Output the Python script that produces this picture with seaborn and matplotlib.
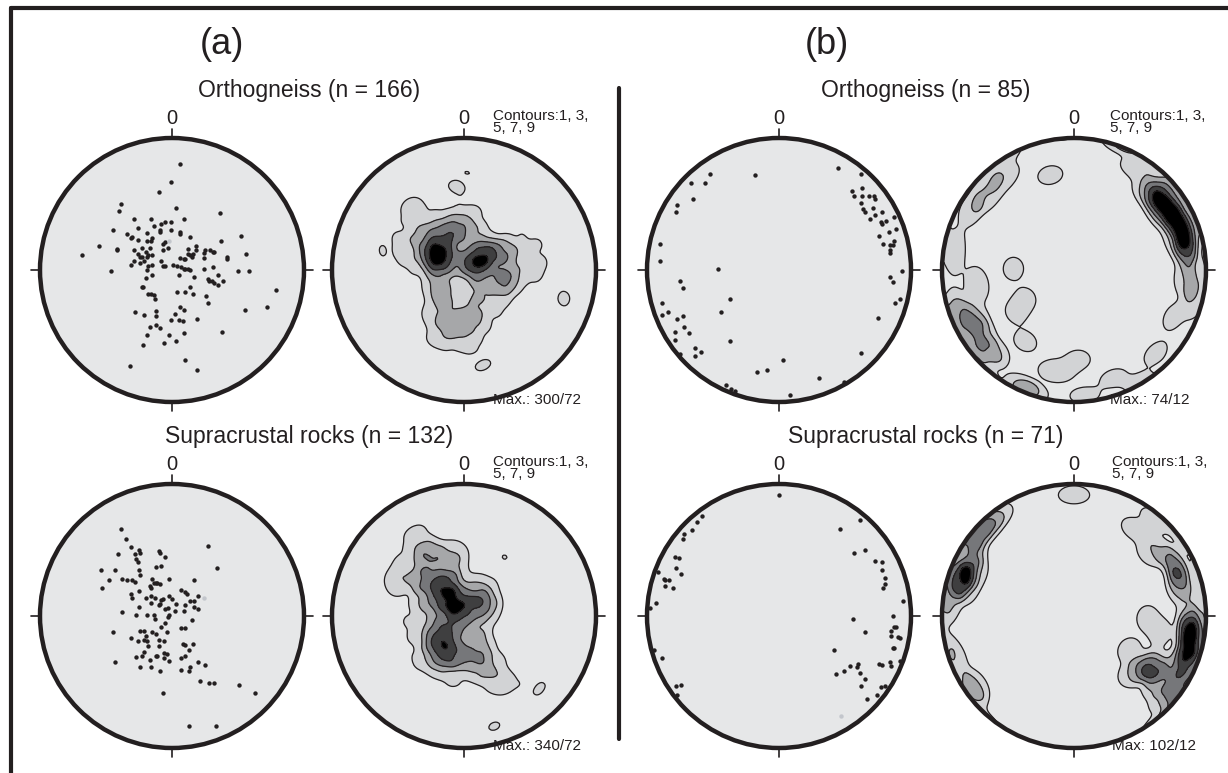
import numpy as np
import matplotlib
matplotlib.use("Agg")
import matplotlib.pyplot as plt
import seaborn as sns
from matplotlib.patches import Circle
from matplotlib.lines import Line2D

# poles in the equal-area net, x = east, y = north, unit circle = primitive
ortho_a_x = [0.06, -0.01, -0.10, -0.39, -0.40, 0.03, 0.36, -0.29, -0.16, 0.09,
             -0.08, -0.05, -0.01, -0.26, -0.14, -0.09, -0.09, -0.01, 0.06, 0.06,
             -0.45, -0.34, -0.30, -0.31, -0.26, -0.19, -0.15, -0.16, -0.19, 0.14,
             0.52, 0.37, -0.55, -0.42, -0.42, -0.23, -0.17, -0.20, -0.29, -0.07,
             -0.05, -0.03, -0.07, 0.12, 0.18, 0.18, 0.12, 0.14, 0.15, 0.16,
             0.24, 0.25, 0.29, 0.31, 0.32, 0.42, 0.42, 0.56, -0.68, -0.26,
             -0.24, -0.23, -0.19, -0.18, -0.15, -0.21, -0.29, -0.31, -0.24, -0.18,
             -0.15, -0.08, -0.07, -0.05, 0.01, 0.04, 0.06, 0.09, 0.10, 0.07,
             0.10, 0.14, 0.12, 0.05, 0.09, 0.17, 0.24, 0.24, 0.31, 0.27,
             0.28, 0.30, 0.32, 0.35, 0.35, 0.39, -0.46, -0.19, -0.20, -0.15,
             -0.22, -0.23, -0.18, -0.16, -0.14, -0.13, 0.50, 0.58, 0.79, 0.04,
             0.10, 0.14, 0.16, 0.26, 0.27, 0.55, 0.72, 0.06, 0.09, -0.28,
             -0.21, -0.12, -0.12, 0.02, 0.19, -0.01, 0.05, 0.08, -0.17, -0.12,
             -0.09, -0.19, -0.02, 0.09, 0.38, -0.22, -0.06, 0.03, 0.10, -0.32, 0.19]
ortho_a_y = [0.80, 0.67, 0.59, 0.50, 0.45, 0.47, 0.43, 0.39, 0.39, 0.39,
             0.35, 0.36, 0.36, 0.32, 0.33, 0.30, 0.29, 0.30, 0.29, 0.27,
             0.30, 0.27, 0.25, 0.24, 0.23, 0.28, 0.24, 0.22, 0.22, 0.25,
             0.26, 0.22, 0.18, 0.16, 0.15, 0.17, 0.17, 0.14, 0.15, 0.20,
             0.21, 0.17, 0.15, 0.16, 0.18, 0.15, 0.12, 0.11, 0.10, 0.12,
             0.13, 0.15, 0.15, 0.14, 0.14, 0.10, 0.08, 0.12, 0.11, 0.12,
             0.10, 0.10, 0.10, 0.11, 0.11, 0.07, 0.07, 0.04, 0.05, 0.03,
             0.04, 0.07, 0.03, 0.03, 0.04, 0.03, 0.09, 0.08, 0.08, 0.02,
             0.01, 0.00, 0.01, -0.04, 0.01, -0.05, 0.09, 0.01, 0.02, -0.07,
             -0.08, -0.08, -0.10, -0.04, -0.11, -0.08, -0.01, 0.00, -0.06, -0.04,
             -0.13, -0.13, -0.18, -0.18, -0.19, -0.22, -0.01, -0.01, -0.15, -0.17,
             -0.17, -0.13, -0.18, -0.20, -0.25, -0.30, -0.28, -0.28, -0.30, -0.32,
             -0.34, -0.31, -0.35, -0.33, -0.37, -0.38, -0.38, -0.39, -0.43, -0.42,
             -0.44, -0.49, -0.49, -0.48, -0.47, -0.57, -0.55, -0.54, -0.68, -0.73, -0.76]
ortho_a_mean = (-0.02, 0.22)

supra_a_x = [-0.39, -0.35, -0.31, -0.41, -0.28, -0.25, -0.24, -0.10, -0.09, -0.05,
             0.27, -0.27, -0.26, -0.12, -0.08, -0.25, -0.24, -0.54, -0.43, 0.34,
             -0.48, -0.38, -0.34, -0.30, -0.28, -0.15, -0.14, -0.12, -0.11, -0.09,
             -0.17, -0.16, -0.02, 0.17, -0.53, -0.25, 0.07, 0.10, 0.11, -0.31,
             -0.30, -0.20, -0.16, -0.13, -0.16, -0.07, -0.08, -0.02, 0.00, 0.03,
             0.14, 0.17, 0.20, 0.17, 0.20, -0.10, -0.09, -0.05, -0.03, -0.25,
             -0.38, -0.27, -0.19, -0.14, -0.13, -0.02, -0.03, -0.05, -0.08, 0.02,
             0.10, 0.09, 0.15, 0.07, 0.10, -0.45, -0.24, -0.21, -0.15, -0.12,
             -0.20, -0.04, -0.31, -0.26, -0.21, -0.19, -0.10, -0.06, 0.08, 0.10,
             0.16, 0.13, -0.18, -0.10, -0.21, -0.12, -0.06, -0.04, -0.11, -0.27,
             -0.23, -0.17, -0.06, -0.02, 0.07, 0.10, 0.20, 0.25, -0.43, -0.24,
             -0.16, -0.09, 0.07, 0.14, 0.13, 0.21, 0.28, 0.32, 0.51, 0.63,
             -0.07, 0.13, 0.33]
supra_a_y = [0.66, 0.58, 0.52, 0.47, 0.47, 0.50, 0.48, 0.49, 0.48, 0.45,
             0.53, 0.43, 0.41, 0.37, 0.38, 0.35, 0.31, 0.35, 0.35, 0.36,
             0.27, 0.28, 0.27, 0.27, 0.26, 0.28, 0.25, 0.25, 0.25, 0.24,
             0.23, 0.21, 0.28, 0.27, 0.21, 0.19, 0.20, 0.18, 0.17, 0.17,
             0.14, 0.14, 0.15, 0.14, 0.10, 0.13, 0.12, 0.15, 0.13, 0.09,
             0.11, 0.11, 0.15, 0.07, 0.05, 0.08, 0.09, 0.05, 0.06, 0.07,
             0.03, 0.01, 0.01, 0.01, -0.02, 0.01, -0.01, -0.05, -0.08, 0.04,
             0.08, 0.04, -0.03, -0.09, -0.09, -0.12, -0.11, -0.11, -0.12, -0.14,
             -0.15, -0.12, -0.17, -0.19, -0.18, -0.19, -0.18, -0.19, -0.21, -0.22,
             -0.21, -0.26, -0.23, -0.23, -0.27, -0.30, -0.28, -0.29, -0.30, -0.31,
             -0.30, -0.33, -0.32, -0.34, -0.32, -0.30, -0.35, -0.37, -0.35, -0.39,
             -0.39, -0.42, -0.41, -0.39, -0.42, -0.49, -0.51, -0.51, -0.52, -0.58,
             -0.58, -0.83, -0.83]
supra_a_mean = (0.24, 0.14)

ortho_b_x = [0.45, 0.62, -0.18, -0.52, -0.67, -0.56, -0.65, -0.77, -0.78, 0.55,
             0.57, 0.63, 0.63, 0.68, 0.72, 0.73, 0.62, 0.64, 0.65, 0.71,
             0.73, 0.78, 0.69, 0.77, 0.78, 0.81, 0.87, 0.83, 0.89, 0.76,
             0.79, 0.84, 0.86, 0.87, 0.84, 0.84, -0.90, -0.90, -0.46, 0.93,
             0.84, 0.86, -0.75, -0.73, -0.37, 0.92, 0.88, -0.89, -0.89, -0.84,
             -0.77, -0.73, -0.44, -0.72, -0.79, -0.79, -0.68, 0.75, -0.64, -0.59,
             -0.64, -0.75, -0.37, 0.62, 0.03, -0.17, -0.09, 0.30, 0.49, -0.40,
             -0.36, -0.33, 0.08]
ortho_b_y = [0.77, 0.73, 0.72, 0.73, 0.66, 0.66, 0.54, 0.49, 0.44, 0.60,
             0.56, 0.62, 0.56, 0.56, 0.56, 0.54, 0.51, 0.46, 0.44, 0.47,
             0.42, 0.44, 0.39, 0.36, 0.35, 0.37, 0.40, 0.29, 0.31, 0.26,
             0.20, 0.19, 0.19, 0.22, 0.13, 0.15, 0.20, 0.07, 0.01, -0.01,
             -0.05, -0.09, -0.08, -0.14, -0.22, -0.22, -0.25, -0.25, -0.34, -0.32,
             -0.37, -0.35, -0.32, -0.43, -0.47, -0.53, -0.48, -0.36, -0.59, -0.62,
             -0.65, -0.64, -0.54, -0.63, -0.68, -0.77, -0.76, -0.82, -0.85, -0.87,
             -0.90, -0.92, -0.95]
ortho_b_mean = (-0.90, -0.43)

supra_b_x = [0.00, -0.58, -0.62, -0.66, -0.72, -0.73, -0.79, -0.76, -0.78, -0.74,
             -0.92, -0.87, -0.86, -0.83, -0.86, -0.80, -0.93, -0.98, 0.61, 0.46,
             0.57, 0.65, 0.73, 0.78, 0.78, 0.80, 0.80, 0.79, 0.94, 0.86,
             0.56, 0.65, 0.87, 0.89, 0.85, 0.85, 0.90, 0.92, 0.86, 0.87,
             -0.95, -0.89, 0.42, 0.43, 0.49, 0.54, 0.59, 0.60, 0.61, 0.65,
             0.62, 0.67, 0.74, 0.77, 0.80, 0.84, 0.85, 0.76, 0.78, 0.92,
             -0.78, -0.74, -0.77]
supra_b_y = [0.92, 0.76, 0.71, 0.65, 0.62, 0.58, 0.45, 0.44, 0.36, 0.32,
             0.33, 0.28, 0.27, 0.27, 0.23, 0.21, 0.10, 0.06, 0.73, 0.66,
             0.48, 0.50, 0.42, 0.41, 0.35, 0.29, 0.24, 0.21, 0.11, 0.00,
             -0.02, -0.12, -0.08, -0.08, -0.11, -0.15, -0.16, -0.17, -0.24, -0.24,
             -0.26, -0.32, -0.26, -0.44, -0.42, -0.38, -0.39, -0.36, -0.43, -0.48,
             -0.53, -0.63, -0.60, -0.54, -0.53, -0.35, -0.38, -0.36, -0.37, -0.34,
             -0.53, -0.52, -0.60]
supra_b_mean = (0.47, -0.76)

titles = ["Orthogneiss (n = 166)", "Supracrustal rocks (n = 132)",
          "Orthogneiss (n = 85)", "Supracrustal rocks (n = 71)"]
max_labels = ["Max.: 300/72", "Max.: 340/72", "Max.: 74/12", "Max: 102/12"]
contour_levels = [1, 3, 5, 7, 9]

sns.set_style("white")
plt.rcParams['font.family'] = ['Liberation Sans', 'DejaVu Sans']

INK = '#231f20'
BG = '#e6e7e8'
FILLS = ['#d2d3d5', '#a6a7a9', '#76777a', '#3f3f40', '#000000']
W, H = 1228, 773
R = 132  # net radius in px
L = 1.2

fig = plt.figure(figsize=(W / 100, H / 100), dpi=100)


def net_to_vec(x, y):
    r = np.clip(np.hypot(x, y), 0, 1)
    th = 2 * np.arcsin(r / np.sqrt(2))
    az = np.arctan2(x, y)
    return np.stack([np.sin(th) * np.sin(az), np.sin(th) * np.cos(az), -np.cos(th)], axis=-1)


gx, gy = np.meshgrid(np.linspace(-1.02, 1.02, 171), np.linspace(-1.02, 1.02, 171))
gvec = net_to_vec(gx, gy)


def density(xs, ys):
    # 1% area counting cap (half angle ~8.1 deg), softened edge, antipodal
    p = net_to_vec(np.array(xs), np.array(ys))
    ang = np.degrees(np.arccos(np.clip(np.abs(gvec @ p.T), -1, 1)))
    w = 1 / (1 + np.exp((ang - 8.1) / 1.5))
    return 100 * w.sum(-1) / len(xs)


def make_net(cx, cy):
    ax = fig.add_axes([(cx - R * L) / W, (H - cy - R * L) / H, 2 * R * L / W, 2 * R * L / H])
    ax.set_xlim(-L, L)
    ax.set_ylim(-L, L)
    ax.axis('off')
    ax.add_patch(Circle((0, 0), 1, facecolor=BG, edgecolor='none', zorder=0))
    ax.add_patch(Circle((0, 0), 1, fill=False, edgecolor=INK, lw=3.2, zorder=6))
    for dx, dy in [(0, 1), (1, 0), (0, -1), (-1, 0)]:
        ax.plot([dx, dx * 1.065], [dy, dy * 1.065], color=INK, lw=1.2, zorder=6)
    fig.text(cx / W, 1 - (cy - 151) / H, '0', ha='center', va='center', fontsize=14.5, color=INK)
    return ax


def scatter_net(cx, cy, xs, ys, mean):
    ax = make_net(cx, cy)
    sns.scatterplot(x=xs, y=ys, ax=ax, color=INK, s=10, linewidth=0, zorder=3, legend=False)
    sns.scatterplot(x=[mean[0]], y=[mean[1]], ax=ax, color='#c3c6cc', s=10, linewidth=0,
                    zorder=3, legend=False)
    ax.set_xlim(-L, L)
    ax.set_ylim(-L, L)
    ax.axis('off')


def contour_net(cx, cy, xs, ys, maxlab, tx):
    ax = make_net(cx, cy)
    d = density(xs, ys)
    clip = Circle((0, 0), 1, transform=ax.transData)
    cf = ax.contourf(gx, gy, d, levels=contour_levels + [max(d.max(), 10) + 1], colors=FILLS, zorder=1)
    cl = ax.contour(gx, gy, d, levels=contour_levels, colors=INK, linewidths=0.9, zorder=2)
    cf.set_clip_path(clip)
    cl.set_clip_path(clip)
    fig.text(tx / W, 1 - (cy - 148) / H, "Contours:1, 3,\n5, 7, 9", ha='left', va='center',
             fontsize=11, color=INK, linespacing=0.85)
    fig.text(tx / W, 1 - (cy + 130) / H, maxlab, ha='left', va='center', fontsize=11, color=INK)


# (a)
scatter_net(172, 270, ortho_a_x, ortho_a_y, ortho_a_mean)
contour_net(464, 270, ortho_a_x, ortho_a_y, max_labels[0], 493)
scatter_net(172, 616, supra_a_x, supra_a_y, supra_a_mean)
contour_net(464, 616, supra_a_x, supra_a_y, max_labels[1], 493)
# (b)
scatter_net(779, 270, ortho_b_x, ortho_b_y, ortho_b_mean)
contour_net(1074, 270, ortho_b_x, ortho_b_y, max_labels[2], 1110)
scatter_net(779, 616, supra_b_x, supra_b_y, supra_b_mean)
contour_net(1074, 616, supra_b_x, supra_b_y, max_labels[3], 1112)

fig.text(222 / W, 1 - 44 / H, "(a)", ha='center', va='center', fontsize=26, color=INK)
fig.text(827 / W, 1 - 44 / H, "(b)", ha='center', va='center', fontsize=26, color=INK)
for t, (x, y) in zip(titles, [(309, 90), (309, 437), (926, 90), (926, 437)]):
    fig.text(x / W, 1 - y / H, t, ha='center', va='center', fontsize=16.5, color=INK)

# frame and divider
fig.add_artist(Line2D([11 / W, 1], [1 - 8 / H, 1 - 8 / H], color=INK, lw=3, transform=fig.transFigure))
fig.add_artist(Line2D([11 / W, 11 / W], [0, 1 - 8 / H], color=INK, lw=3, transform=fig.transFigure))
fig.add_artist(Line2D([619 / W, 619 / W], [1 - 88 / H, 1 - 739 / H], color=INK, lw=3,
                      transform=fig.transFigure))

fig.savefig("out.png", dpi=100)
